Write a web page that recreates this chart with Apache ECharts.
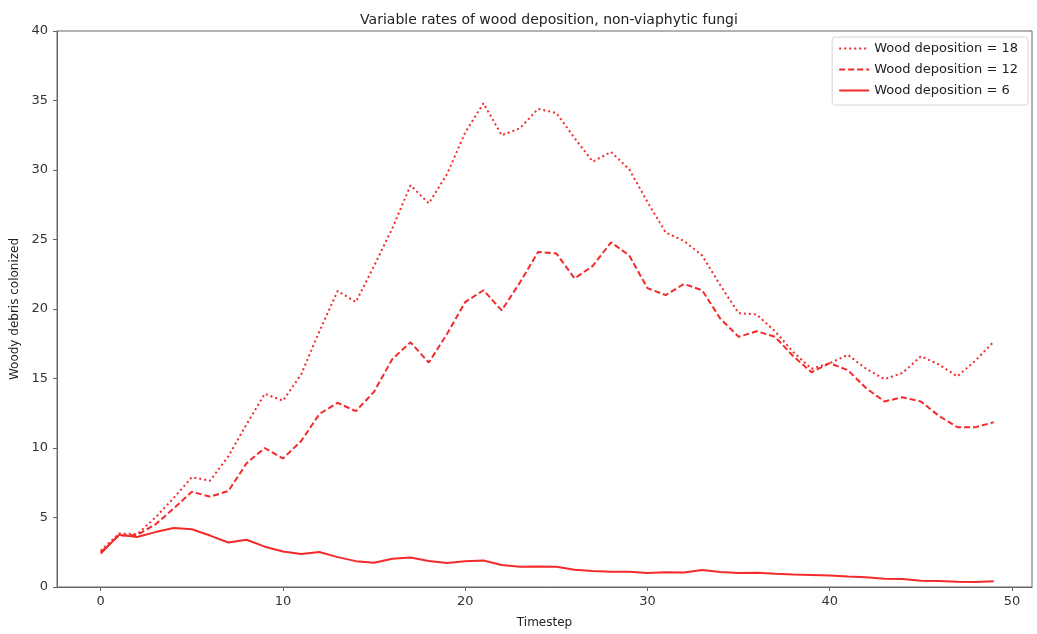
<!DOCTYPE html>
<html>
<head>
<meta charset="utf-8">
<script src="https://cdn.jsdelivr.net/npm/echarts@6/dist/echarts.min.js"></script>
<style>
  html, body { margin: 0; padding: 0; background: #fff; overflow: hidden; }
  #chart { width: 1037px; height: 634px; }
</style>
</head>
<body>
<div id="chart"></div>
<script>
// Timesteps 0..49
const timesteps = Array.from({ length: 50 }, (_, i) => i);

// Woody debris colonized, deposition rate 18
const deposition18 = [
  2.6, 3.85, 3.8, 5.0, 6.4, 7.9, 7.65, 9.4, 11.7, 13.9,
  13.4, 15.3, 18.4, 21.3, 20.5, 23.1, 25.8, 28.9, 27.6, 29.7,
  32.7, 34.8, 32.5, 33.0, 34.4, 34.1, 32.3, 30.6, 31.3, 30.05,
  27.7, 25.5, 24.9, 23.85, 21.7, 19.7, 19.6, 18.4, 16.9, 15.7,
  16.1, 16.7, 15.7, 14.95, 15.4, 16.6, 16.0, 15.15, 16.3, 17.65
];

// Woody debris colonized, deposition rate 12
const deposition12 = [
  2.5, 3.7, 3.75, 4.5, 5.65, 6.85, 6.5, 6.9, 8.9, 10.0,
  9.25, 10.5, 12.45, 13.25, 12.65, 14.05, 16.4, 17.6, 16.15, 18.2,
  20.5, 21.35, 19.9, 21.9, 24.1, 24.0, 22.2, 23.1, 24.8, 23.85,
  21.5, 21.0, 21.8, 21.35, 19.3, 18.0, 18.4, 18.0, 16.6, 15.45,
  16.1, 15.6, 14.3, 13.35, 13.65, 13.35, 12.3, 11.5, 11.5, 11.85
];

// Woody debris colonized, deposition rate 6
const deposition6 = [
  2.4, 3.75, 3.6, 3.95, 4.25, 4.15, 3.7, 3.2, 3.4, 2.9,
  2.55, 2.38, 2.52, 2.15, 1.86, 1.74, 2.03, 2.12, 1.87, 1.72,
  1.86, 1.9, 1.58, 1.45, 1.47, 1.45, 1.24, 1.15, 1.1, 1.1,
  1.0, 1.06, 1.04, 1.22, 1.08, 1.0, 1.03, 0.95, 0.9, 0.87,
  0.83, 0.76, 0.7, 0.6, 0.57, 0.45, 0.44, 0.38, 0.36, 0.42
];

const seriesNames = ['Wood deposition = 18', 'Wood deposition = 12', 'Wood deposition = 6'];
const xTicks = [0, 10, 20, 30, 40, 50];

const pairs = vals => timesteps.map((t, i) => [t, vals[i]]);
const lineColor = '#f42a2a';
const font = 'DejaVu Sans';

const chart = echarts.init(document.getElementById('chart'), null, { renderer: 'canvas' });

chart.setOption({
  backgroundColor: '#ffffff',
  animation: false,
  textStyle: { fontFamily: font },
  title: {
    text: 'Variable rates of wood deposition, non-viaphytic fungi',
    left: 544,
    textAlign: 'center',
    top: 8,
    textStyle: { fontFamily: font, fontSize: 14, fontWeight: 'normal', color: '#222' }
  },
  legend: {
    right: 9,
    top: 37,
    orient: 'vertical',
    itemGap: 8,
    itemWidth: 30,
    itemHeight: 13,
    padding: [5, 10, 8, 6],
    backgroundColor: '#fff',
    borderColor: '#d6d6d6',
    borderWidth: 1,
    borderRadius: 3,
    itemStyle: { opacity: 0 },
    textStyle: { fontFamily: font, fontSize: 13, color: '#222' },
    data: seriesNames
  },
  grid: {
    left: 57,
    top: 31,
    width: 975,
    height: 559,
    show: true,
    borderColor: '#666',
    borderWidth: 1,
    containLabel: false
  },
  xAxis: {
    type: 'value',
    min: -2.4,
    max: 51.1,
    name: 'Timestep',
    nameLocation: 'middle',
    nameGap: 30,
    nameTextStyle: { fontFamily: font, fontSize: 12, color: '#222' },
    axisLine: { show: true, onZero: false, lineStyle: { color: '#666', width: 1 } },
    axisTick: { show: true, customValues: xTicks, length: 4, lineStyle: { color: '#666' } },
    axisLabel: { customValues: xTicks, fontFamily: font, fontSize: 13, color: '#333', margin: 8 },
    splitLine: { show: false }
  },
  yAxis: {
    type: 'value',
    min: 0,
    max: 40,
    interval: 5,
    name: 'Woody debris colonized',
    nameLocation: 'middle',
    nameGap: 36,
    nameTextStyle: { fontFamily: font, fontSize: 12, color: '#222' },
    axisLine: { show: true, onZero: false, lineStyle: { color: '#666', width: 1 } },
    axisTick: { show: true, length: 4, lineStyle: { color: '#666' } },
    axisLabel: { fontFamily: font, fontSize: 13, color: '#333', margin: 9 },
    splitLine: { show: false }
  },
  series: [
    {
      name: seriesNames[0],
      type: 'line',
      data: pairs(deposition18),
      symbol: 'none',
      color: lineColor,
      lineStyle: { color: lineColor, width: 2, type: [2, 3], cap: 'butt' }
    },
    {
      name: seriesNames[1],
      type: 'line',
      data: pairs(deposition12),
      symbol: 'none',
      color: lineColor,
      lineStyle: { color: lineColor, width: 2, type: [6, 3] }
    },
    {
      name: seriesNames[2],
      type: 'line',
      data: pairs(deposition6),
      symbol: 'none',
      color: lineColor,
      lineStyle: { color: lineColor, width: 2, type: 'solid' }
    }
  ]
});
</script>
</body>
</html>
